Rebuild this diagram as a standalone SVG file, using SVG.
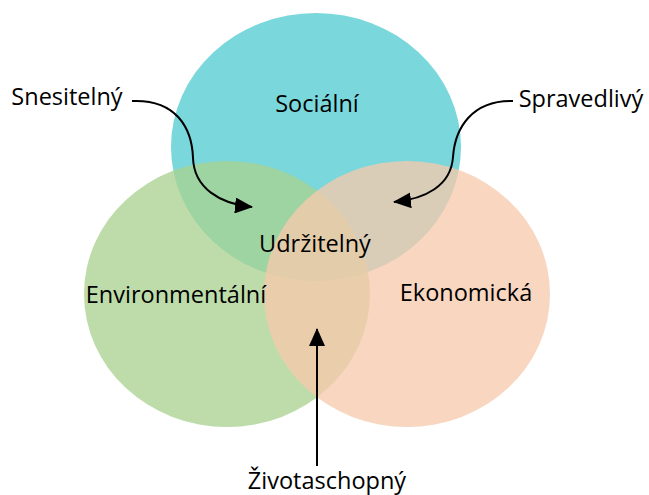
<svg xmlns="http://www.w3.org/2000/svg" width="649" height="495" viewBox="0 0 649 495">
<style>
text{font-family:"Open Sans","Noto Sans","Liberation Sans",sans-serif;font-size:23.5px;fill:#000}
.c{opacity:0.77}
.conn{fill:none;stroke:#000;stroke-width:2}
</style>
<defs>
<marker id="ah" markerUnits="userSpaceOnUse" markerWidth="18" markerHeight="16" viewBox="0 0 18 16" refX="17" refY="8" orient="auto">
<path d="M0,0 L18,8 L0,16 z" fill="#000"/>
</marker>
</defs>
<rect width="649" height="495" fill="#fff"/>
<g id="socialni">
<ellipse cx="316" cy="147" rx="145" ry="134" fill="#7AD7DC"/>
</g>
<g id="environmentalni">
<ellipse class="c" cx="227" cy="294" rx="143" ry="133" fill="#A9D291"/>
</g>
<g id="ekonomicka">
<ellipse class="c" cx="407" cy="294" rx="143" ry="133" fill="#F7CAAD"/>
</g>
<g id="labels-circles">
<text x="317" y="112" text-anchor="middle">Sociální</text>
<text x="176" y="303" text-anchor="middle">Environmentální</text>
<text x="466" y="301" text-anchor="middle">Ekonomická</text>
</g>
<g id="udrzitelny"><text x="315" y="252" text-anchor="middle">Udržitelný</text></g>
<g id="snesitelny"><text x="67" y="105" text-anchor="middle">Snesitelný</text></g>
<g id="spravedlivy"><text x="581" y="107" text-anchor="middle">Spravedlivý</text></g>
<g id="zivotaschopny"><text x="327" y="489" text-anchor="middle">Životaschopný</text></g>
<g id="connectors">
<path class="conn" marker-end="url(#ah)" d="M132,101 C176,99 192,128 193,158 C194,188 220,204 252,207"/>
<path class="conn" marker-end="url(#ah)" d="M513,101 C472,100 455,128 453,157 C451,186 425,199 394,202"/>
<path class="conn" marker-end="url(#ah)" d="M317,466 L317,329"/>
</g>
</svg>
